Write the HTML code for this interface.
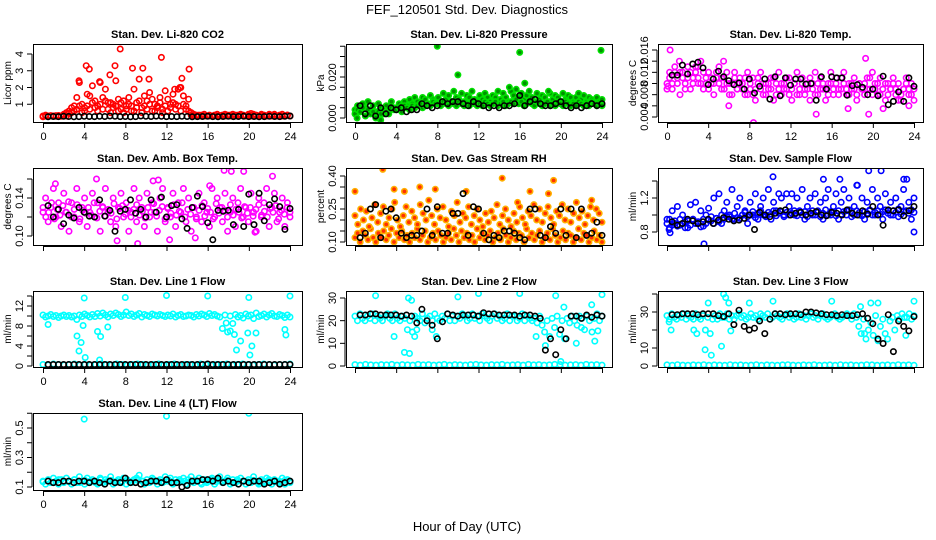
<!DOCTYPE html>
<html><head><meta charset="utf-8"><title>FEF_120501 Std. Dev. Diagnostics</title>
<style>
html,body{margin:0;padding:0;background:#fff;}
svg{display:block;font-family:"Liberation Sans",sans-serif;}
</style></head>
<body>
<svg id="chart" width="936" height="540" viewBox="0 0 936 540" xmlns="http://www.w3.org/2000/svg">
<text x="467" y="14" text-anchor="middle" font-size="13">FEF_120501  Std. Dev. Diagnostics</text>
<text x="467" y="531" text-anchor="middle" font-size="13">Hour of Day (UTC)</text>
</svg>
<script>
// ---------- data ----------
const xTicks = [0,4,8,12,16,20,24];

const co2A = [0.3,0.35,0.3,0.32, 0.3,0.28,0.33,0.3, 0.4,0.5,0.6,0.8, 0.9,1.4,2.3,1.0, 0.8,1.6,1.5,2.1, 1.2,0.9,2.3,1.4, 1.9,1.1,1.1,0.8, 2.4,1.3,0.7,1.2, 0.9,1.4,0.6,1.9, 1.1,2.5,0.8,1.5, 1.2,1.7,0.6,1.0, 0.9,1.4,0.7,1.8, 1.3,0.8,1.6,1.0, 1.9,2.0,1.5,0.9, 1.3,0.5,0.4,0.35, 0.35,0.3,0.4,0.3, 0.35,0.3,0.32,0.4, 0.3,0.35,0.4,0.3, 0.35,0.4,0.3,0.35, 0.4,0.35,0.3,0.4, 0.45,0.4,0.35,0.3, 0.4,0.35,0.3,0.4, 0.35,0.4,0.3,0.35, 0.4,0.3,0.35,0.3];
const co2B = [0.25,0.3,0.28,0.3, 0.3,0.32,0.3,0.28, 0.35,0.3,0.45,0.5, 0.6,0.7,0.9,0.5, 0.6,0.9,0.7,1.1, 0.8,0.6,1.0,0.7, 1.2,0.7,0.5,1.0, 0.9,0.6,1.1,0.5, 0.7,1.0,0.9,0.6, 0.8,1.2,0.5,0.9, 0.7,1.0,1.3,0.6, 0.8,1.1,0.5,0.9, 0.6,1.0,1.1,0.7, 0.9,0.6,1.0,0.7, 0.6,0.35,0.3,0.3, 0.3,0.35,0.3,0.3, 0.3,0.3,0.35,0.3, 0.32,0.3,0.3,0.35, 0.3,0.3,0.35,0.3, 0.35,0.3,0.3,0.35, 0.3,0.35,0.3,0.3, 0.35,0.3,0.3,0.32, 0.3,0.35,0.3,0.3, 0.3,0.3,0.35,0.3];
const co2OutT = [7.5,11.5,4.2,4.5,7,8.7,9.7,14.2,13.5,3.5,6.5,10.3,5.5,12.8,13.3];
const co2OutV = [4.3,3.8,3.3,3.1,3.3,3.15,3.15,3.1,2.55,2.4,2.75,2.5,2.35,1.9,2.0];
const co2K = [0.25,0.27,0.26,0.28,0.27,0.25,0.26,0.28,0.27,0.26,0.28,0.27,0.3,0.28,0.26,0.27,0.25,0.26,0.3,0.28,0.27,0.29,0.28,0.26,0.27,0.26,0.28,0.27,0.25,0.26,0.27,0.28,0.26,0.25,0.27,0.28,0.26,0.27,0.28,0.26,0.27,0.25,0.26,0.28,0.27,0.26,0.28,0.3];

const presA = [0.004,0.006,0.003,0.007, 0.005,0.008,0.004,0.006, 0.003,0.007,0.005,0.002, 0.006,0.004,0.008,0.005, 0.005,0.007,0.006,0.008, 0.006,0.009,0.007,0.010, 0.008,0.006,0.010,0.009, 0.007,0.011,0.009,0.008, 0.010,0.008,0.012,0.009, 0.011,0.008,0.013,0.010, 0.009,0.012,0.008,0.011, 0.010,0.013,0.009,0.008, 0.011,0.009,0.012,0.010, 0.008,0.011,0.010,0.013, 0.009,0.012,0.010,0.008, 0.013,0.011,0.014,0.010, 0.012,0.009,0.011,0.013, 0.010,0.008,0.012,0.009, 0.011,0.010,0.008,0.012, 0.009,0.011,0.010,0.008, 0.012,0.009,0.011,0.010, 0.008,0.010,0.012,0.009, 0.011,0.008,0.010,0.009, 0.007,0.010,0.008,0.009];
const presB = [0.002,0.004,0.003,0.005, 0.001,0.004,0.002,0.003, 0.000,0.003,0.002,0.004, 0.003,0.002,0.005,0.004, 0.004,0.005,0.003,0.006, 0.005,0.004,0.006,0.005, 0.006,0.007,0.005,0.006, 0.007,0.006,0.008,0.007, 0.007,0.006,0.008,0.007, 0.006,0.008,0.007,0.006, 0.008,0.007,0.006,0.007, 0.006,0.008,0.007,0.006, 0.007,0.006,0.008,0.007, 0.006,0.007,0.008,0.006, 0.007,0.008,0.006,0.007, 0.008,0.007,0.009,0.007, 0.008,0.006,0.007,0.008, 0.007,0.006,0.008,0.007, 0.006,0.007,0.008,0.006, 0.007,0.006,0.008,0.007, 0.006,0.008,0.007,0.006, 0.007,0.006,0.008,0.007, 0.006,0.007,0.006,0.008, 0.007,0.006,0.007,0.006];
const presOutT = [8,16,23.9,10,15,16.5,0.2,2.5,18.8];
const presOutV = [0.035,0.032,0.033,0.021,0.015,0.017,0.0,-0.001,0.013];
const presK = [0.006,0.002,0.006,0.001,0.005,0.002,0.005,0.004,0.005,0.003,0.004,0.004,0.007,0.006,0.005,0.006,0.008,0.007,0.008,0.008,0.007,0.006,0.008,0.007,0.006,0.005,0.006,0.005,0.006,0.006,0.007,0.011,0.006,0.008,0.009,0.007,0.006,0.006,0.007,0.008,0.006,0.005,0.006,0.005,0.006,0.007,0.006,0.007];

const ltA = [0.010,0.012,0.009,0.013, 0.011,0.008,0.012,0.010, 0.013,0.009,0.011,0.012, 0.010,0.014,0.009,0.011, 0.012,0.010,0.008,0.011, 0.013,0.009,0.011,0.012, 0.010,0.008,0.012,0.009, 0.011,0.010,0.008,0.012, 0.009,0.011,0.007,0.010, 0.012,0.008,0.010,0.009, 0.011,0.007,0.010,0.012, 0.008,0.010,0.009,0.011, 0.007,0.010,0.012,0.008, 0.011,0.009,0.010,0.007, 0.010,0.012,0.008,0.011, 0.009,0.007,0.010,0.012, 0.008,0.010,0.009,0.011, 0.012,0.008,0.010,0.009, 0.011,0.007,0.010,0.009, 0.008,0.011,0.009,0.012, 0.010,0.008,0.011,0.009, 0.007,0.010,0.009,0.011, 0.008,0.010,0.007,0.009, 0.011,0.008,0.010,0.007];
const ltB = [0.009,0.011,0.010,0.012, 0.010,0.012,0.011,0.009, 0.011,0.012,0.010,0.013, 0.011,0.010,0.012,0.010, 0.009,0.011,0.010,0.012, 0.010,0.011,0.009,0.010, 0.008,0.010,0.011,0.009, 0.010,0.009,0.011,0.008, 0.010,0.008,0.009,0.011, 0.009,0.010,0.008,0.010, 0.009,0.011,0.008,0.009, 0.010,0.009,0.011,0.008, 0.009,0.010,0.008,0.009, 0.010,0.008,0.009,0.011, 0.009,0.008,0.010,0.009, 0.010,0.009,0.008,0.010, 0.009,0.011,0.008,0.009, 0.010,0.009,0.008,0.010, 0.009,0.008,0.010,0.009, 0.010,0.009,0.011,0.008, 0.009,0.010,0.008,0.009, 0.010,0.008,0.009,0.010, 0.009,0.007,0.008,0.009, 0.010,0.009,0.008,0.009];
const ltOutT = [0.3,8.4,14.5,19.6,6,17.6,21,1.2,3,5.5,19.3,23.5,0.1];
const ltOutV = [0.016,0.003,0.0045,0.0045,0.006,0.0055,0.0055,0.014,0.013,0.014,0.0145,0.006,0.0095];
const ltK = [0.0115,0.0115,0.0133,0.0117,0.0135,0.0138,0.0128,0.0098,0.0108,0.0122,0.0112,0.0105,0.0098,0.0101,0.0090,0.0108,0.0083,0.0095,0.0108,0.0072,0.0112,0.0078,0.0110,0.0097,0.0108,0.0108,0.0099,0.0100,0.0070,0.0112,0.0090,0.0112,0.0110,0.0110,0.0079,0.0096,0.0098,0.0093,0.0080,0.0090,0.0078,0.0113,0.0062,0.0068,0.0085,0.0068,0.0110,0.0095];

const abA = [0.125,0.140,0.115,0.130, 0.150,0.120,0.135,0.110, 0.145,0.125,0.105,0.135, 0.120,0.150,0.115,0.130, 0.140,0.110,0.125,0.145, 0.120,0.135,0.105,0.130, 0.150,0.125,0.115,0.140, 0.110,0.130,0.145,0.120, 0.135,0.105,0.125,0.150, 0.115,0.140,0.130,0.110, 0.145,0.120,0.135,0.125, 0.105,0.140,0.150,0.115, 0.130,0.120,0.145,0.110, 0.135,0.125,0.150,0.115, 0.140,0.105,0.130,0.120, 0.145,0.115,0.135,0.125, 0.110,0.150,0.120,0.140, 0.130,0.115,0.145,0.105, 0.125,0.140,0.110,0.135, 0.150,0.120,0.130,0.115, 0.145,0.125,0.105,0.140, 0.120,0.135,0.150,0.110, 0.130,0.145,0.115,0.125, 0.140,0.110,0.135,0.120];
const abB = [0.130,0.120,0.125,0.135, 0.118,0.128,0.122,0.132, 0.125,0.136,0.120,0.128, 0.133,0.118,0.127,0.124, 0.130,0.122,0.135,0.119, 0.126,0.131,0.121,0.128, 0.124,0.134,0.118,0.129, 0.132,0.123,0.127,0.120, 0.128,0.133,0.122,0.126, 0.119,0.130,0.125,0.134, 0.121,0.127,0.131,0.118, 0.129,0.124,0.133,0.122, 0.126,0.135,0.120,0.128, 0.123,0.130,0.118,0.127, 0.132,0.121,0.129,0.125, 0.118,0.134,0.124,0.130, 0.127,0.120,0.133,0.122, 0.128,0.125,0.119,0.131, 0.124,0.130,0.121,0.128, 0.133,0.122,0.126,0.120, 0.129,0.125,0.132,0.118, 0.127,0.123,0.130,0.125];
const abOutT = [1.2,5.2,10.7,11.2,16.2,17.6,18.3,19.5,22.3,7.2,9.2,20.6,12.3,14.8];
const abOutV = [0.155,0.160,0.158,0.159,0.153,0.169,0.168,0.168,0.163,0.095,0.092,0.104,0.096,0.098];
const abK = [0.132,0.120,0.128,0.113,0.122,0.119,0.130,0.125,0.121,0.120,0.138,0.121,0.127,0.105,0.126,0.128,0.138,0.124,0.128,0.120,0.138,0.125,0.141,0.120,0.132,0.133,0.118,0.108,0.130,0.142,0.131,0.114,0.096,0.127,0.126,0.127,0.112,0.128,0.110,0.144,0.112,0.145,0.116,0.133,0.139,0.131,0.107,0.129];

const rhA = [0.12,0.14,0.10,0.15, 0.13,0.11,0.16,0.12, 0.10,0.14,0.12,0.15, 0.11,0.13,0.16,0.10, 0.14,0.12,0.15,0.11, 0.13,0.10,0.14,0.12, 0.16,0.11,0.13,0.15, 0.10,0.12,0.14,0.11, 0.15,0.13,0.10,0.12, 0.14,0.11,0.16,0.13, 0.10,0.15,0.12,0.14, 0.11,0.13,0.10,0.16, 0.12,0.14,0.11,0.13, 0.15,0.10,0.12,0.14, 0.11,0.16,0.13,0.10, 0.12,0.15,0.11,0.14, 0.13,0.10,0.16,0.12, 0.14,0.11,0.13,0.15, 0.10,0.12,0.14,0.11, 0.16,0.13,0.10,0.12, 0.15,0.11,0.14,0.13, 0.10,0.12,0.16,0.11, 0.14,0.13,0.10,0.12, 0.15,0.11,0.13,0.10];
const rhB = [0.22,0.18,0.25,0.20, 0.24,0.17,0.21,0.27, 0.19,0.23,0.26,0.18, 0.21,0.25,0.28,0.20, 0.17,0.22,0.26,0.19, 0.24,0.21,0.18,0.27, 0.23,0.20,0.29,0.22, 0.18,0.25,0.21,0.26, 0.20,0.17,0.24,0.22, 0.28,0.19,0.23,0.21, 0.26,0.18,0.22,0.25, 0.20,0.17,0.23,0.19, 0.24,0.21,0.27,0.18, 0.22,0.25,0.20,0.17, 0.23,0.19,0.26,0.21, 0.18,0.24,0.22,0.27, 0.20,0.25,0.19,0.23, 0.26,0.21,0.18,0.24, 0.22,0.27,0.20,0.25, 0.19,0.23,0.28,0.21, 0.24,0.18,0.22,0.26, 0.20,0.25,0.23,0.19];
const rhOutT = [0,2.7,3.8,4.8,6.3,7.8,10.8,14.3,15.8,17,19.3,18.8,23];
const rhOutV = [0.33,0.43,0.34,0.33,0.35,0.34,0.33,0.39,0.28,0.33,0.38,0.32,0.29];
const rhK = [0.12,0.14,0.25,0.27,0.12,0.24,0.25,0.21,0.14,0.12,0.13,0.13,0.15,0.25,0.13,0.26,0.14,0.14,0.23,0.23,0.32,0.13,0.26,0.25,0.14,0.11,0.13,0.12,0.15,0.15,0.14,0.12,0.11,0.25,0.25,0.13,0.12,0.17,0.14,0.25,0.13,0.25,0.12,0.25,0.13,0.14,0.19,0.13];

const sfA = [0.95,0.85,1.05,0.9, 1.1,0.88,1.0,0.92, 0.85,1.12,0.95,1.15, 0.9,1.05,0.87,1.0, 1.08,0.93,1.2,0.96, 1.25,0.9,1.05,1.15, 0.98,1.3,0.95,1.1, 1.2,1.0,1.05,0.9, 1.15,1.0,1.25,0.95, 1.1,1.2,1.0,1.3, 0.95,1.15,1.05,1.25, 1.2,1.0,1.25,1.1, 1.25,1.0,1.2,1.05, 1.3,0.95,1.1,1.2, 1.0,1.25,1.05,1.15, 0.95,1.2,1.3,1.0, 1.1,1.25,0.95,1.15, 1.3,1.05,1.2,0.98, 1.1,1.35,1.0,1.2, 0.95,1.15,1.05,1.3, 1.0,1.2,1.1,0.95, 1.25,1.05,1.15,1.0, 1.2,0.98,1.1,1.3, 1.05,1.15,0.95,1.2];
const sfB = [0.9,0.95,0.88,0.93, 0.87,0.95,0.9,0.85, 0.93,0.88,0.95,0.9, 0.92,0.86,0.95,0.9, 0.94,0.98,0.9,0.96, 0.92,1.0,0.95,0.98, 1.0,0.95,1.02,0.97, 0.96,1.0,1.03,0.98, 1.0,1.04,0.97,1.02, 1.05,1.0,0.98,1.03, 1.01,1.05,0.99,1.02, 1.04,0.98,1.03,1.0, 1.02,1.05,0.99,1.03, 1.0,1.04,0.98,1.02, 1.05,1.0,1.03,0.98, 1.02,1.06,1.0,1.04, 1.03,0.99,1.05,1.01, 1.04,1.0,1.06,1.02, 1.0,1.05,1.03,0.99, 1.04,1.02,1.06,1.0, 1.03,1.05,1.01,1.04, 1.06,1.02,1.0,1.05, 1.03,1.07,1.01,1.04, 1.05,1.02,1.06,1.03];
const sfOutT = [0.2,0.3,3.6,10.3,15.2,19.6,20.8,18.5,16.8,23,24,23.3];
const sfOutV = [0.83,0.79,0.66,1.45,1.42,1.52,1.52,1.35,1.42,1.42,0.8,1.42];
const sfK = [0.92,0.88,0.9,0.95,0.93,0.9,0.92,0.95,0.9,0.94,0.97,0.95,0.93,0.94,0.96,1.0,0.83,1.03,1.0,0.98,1.02,1.05,1.06,1.0,1.02,1.03,1.0,1.02,1.04,1.0,0.99,1.03,1.02,1.0,1.06,1.02,1.0,1.05,1.01,1.1,1.0,0.88,1.06,1.05,1.06,0.99,1.05,1.1];

const l1A = [10.2,9.8,10.0,10.3, 9.9,10.1,9.7,10.0, 10.2,9.9,10.1,9.8, 10.0,9.3,10.2,9.9, 10.4,10.1,9.8,10.3, 9.9,10.5,10.0,10.6, 10.2,9.8,10.4,10.1, 10.6,10.3,9.9,10.2, 10.8,10.1,10.4,9.9, 10.2,10.5,9.8,10.3, 10.1,9.9,10.4,10.2, 10.0,10.3,10.1,9.9, 10.2,10.0,10.4,9.8, 10.1,10.3,9.9,10.0, 10.2,10.1,9.8,10.3, 10.0,10.4,10.2,9.9, 10.5,10.1,10.3,10.0, 9.8,7.5,10.2,6.8, 10.0,8.5,10.3,9.8, 10.1,9.6,10.4,10.0, 10.2,9.5,10.6,9.9, 10.1,10.4,9.8,10.2, 10.5,10.0,9.9,10.3, 10.1,9.7,10.2,9.8];
const l1B = [0.3,0.2,0.4,0.3,0.2,0.3,0.4,0.2,0.3,0.2,0.3,0.4,0.3,0.2,0.4,0.3,0.2,0.3,0.4,0.3,0.2,0.3,0.4,0.2,0.3,0.4,0.2,0.3,0.3,0.2,0.4,0.3,0.2,0.3,0.3,0.4,0.2,0.3,0.4,0.3,0.2,0.3,0.4,0.3,0.2,0.3,0.3,0.4];
const l1OutT = [4,8,12,16,20,24,0.5,3.3,3.5,3.7,4.1,3.9,5.3,5.6,6.3,17.8,18.2,18.6,18.8,19.2,19.9,20.1,20.3,20.7,23.5,23.6,5.5];
const l1OutV = [13.6,13.7,14.1,14.0,13.7,14.0,8.3,6.0,3.0,4.7,1.7,8.1,6.9,5.9,7.8,8.6,7.0,6.3,3.2,5.0,6.6,2.2,4.0,6.6,7.3,6.2,1.2];
const l1K = [0.3,0.3,0.3,0.3,0.3,0.3,0.3,0.3,0.3,0.3,0.3,0.3,0.3,0.3,0.3,0.3,0.3,0.3,0.3,0.3,0.3,0.3,0.3,0.3,0.3,0.3,0.3,0.3,0.3,0.3,0.3,0.4,0.3,0.3,0.3,0.3,0.3,0.3,0.3,0.3,0.3,0.3,0.3,0.3,0.3,0.3,0.3,0.3];

const l2A = [22,20,23,21, 20,22,21,23, 20,22,21,20, 22,23,21,20, 23,21,20,22, 21,16,20,15, 22,21,20,23, 19,21,22,20, 23,21,20,22, 21,23,20,22, 20,22,21,23, 22,20,21,23, 21,22,20,23, 22,21,20,22, 23,21,22,20, 21,23,20,22, 22,20,21,23, 20,22,21,20, 21,19,22,18, 15,20,13,21, 17,22,14,20, 12,21,19,22, 20,18,22,21, 16,22,20,15, 21,23,20,22];
const l2B = [0.6,0.4,0.7,0.5,0.4,0.6,0.5,0.7,0.4,0.6,0.5,0.4,0.7,0.5,0.6,0.4,0.5,0.7,0.4,0.6,0.5,0.4,0.6,0.7,0.5,0.4,0.6,0.5,0.7,0.4,0.5,0.6,0.4,0.7,0.5,0.6,0.4,0.5,0.7,0.6,0.4,0.5,0.6,0.4,0.7,0.5,0.6,0.4];
const l2OutT = [2,4.8,5.2,5.5,5.3,5.8,6,7.9,10,12,16,17.6,18.5,19.5,20,20.3,21.5,22,23,23.3,23.6,24,3.8,7.5];
const l2OutV = [31,6,30,29,5.5,13,16,13,30.5,32,32,13,9,31,2,26,10,17,27,11,15.5,31.5,13,16];
const l2K = [22.5,22.5,23,23,22.5,22.5,22.5,22.5,22,22.5,22,19,25,20,18,12,19.5,23,22.5,22,22.5,22.5,22.5,22,23.5,23,23,22.5,22.5,22.5,22.5,22,22.5,22.5,22,21,7,12,5,16,12,22,22,21,22.5,21.5,22.5,22];

const l3A = [28,26,29,27, 26,28,27,29, 26,28,27,26, 29,27,26,28, 20,27,18,26, 28,26,29,27, 27,29,26,28, 26,28,29,27, 28,26,27,29, 27,28,26,29, 28,27,29,26, 27,29,28,27, 26,28,29,27, 28,26,27,29, 27,28,26,28, 29,27,28,26, 28,29,27,26, 27,28,29,27, 26,27,28,29, 28,26,29,27, 22,18,26,15, 20,24,17,28, 14,22,26,18, 15,25,27,20, 28,26,29,27, 27,29,26,28];
const l3B = [0.6,0.4,0.7,0.5,0.4,0.6,0.5,0.7,0.4,0.6,0.5,0.4,0.7,0.5,0.6,0.4,0.5,0.7,0.4,0.6,0.5,0.4,0.6,0.7,0.5,0.4,0.6,0.5,0.7,0.4,0.5,0.6,0.4,0.7,0.5,0.6,0.4,0.5,0.7,0.6,0.4,0.5,0.6,0.4,0.7,0.5,0.6,0.4];
const l3OutT = [0.2,0.4,4,3.7,4.3,5.3,5.5,5.7,6,6.2,8,10.3,16,18.8,19.8,20.5,24,2.6,2.9,19.2,23.2];
const l3OutV = [24.5,20,35,9,6,11,40,38,35,19.5,35,36,36,33,35,35,36,20,18,18,17];
const l3K = [28.5,28.5,29,29,29,28.5,29,29,29,28,27.5,29,23,31,22,20,21,25,18,26,29,29,28.5,29,29,28.5,30,30,29.5,29,28.5,28.5,28,28.5,28,28,28.5,29,26.5,23.5,15,12.5,28.5,8,25,22,19.5,27.5];

const l4A = [0.14,0.12,0.15,0.13, 0.16,0.14,0.12,0.15, 0.13,0.16,0.14,0.12, 0.15,0.13,0.17,0.14, 0.12,0.16,0.13,0.15, 0.14,0.12,0.16,0.13, 0.15,0.14,0.17,0.12, 0.13,0.15,0.14,0.16, 0.12,0.14,0.13,0.15, 0.16,0.18,0.14,0.12, 0.15,0.13,0.16,0.14, 0.12,0.15,0.13,0.17, 0.14,0.16,0.12,0.15, 0.13,0.14,0.16,0.12, 0.15,0.17,0.13,0.14, 0.16,0.12,0.15,0.13, 0.14,0.16,0.12,0.15, 0.17,0.13,0.14,0.16, 0.12,0.15,0.13,0.14, 0.16,0.14,0.12,0.15, 0.13,0.17,0.14,0.12, 0.15,0.13,0.16,0.14, 0.12,0.15,0.14,0.13, 0.16,0.12,0.15,0.14];
const l4B = [0.135,0.145,0.13,0.15,0.14,0.135,0.15,0.13,0.145,0.14,0.13,0.15,0.135,0.145,0.14,0.13,0.15,0.135,0.145,0.14,0.13,0.15,0.14,0.135,0.145,0.13,0.15,0.14,0.135,0.145,0.13,0.14,0.15,0.135,0.14,0.145,0.13,0.15,0.14,0.135,0.145,0.13,0.14,0.15,0.135,0.14,0.145,0.13];
const l4OutT = [4,12,20];
const l4OutV = [0.56,0.58,0.60];
const l4K = [0.14,0.13,0.13,0.14,0.14,0.13,0.14,0.14,0.13,0.14,0.13,0.12,0.14,0.13,0.13,0.16,0.13,0.13,0.12,0.13,0.14,0.14,0.13,0.15,0.13,0.13,0.10,0.11,0.14,0.14,0.15,0.15,0.14,0.16,0.13,0.14,0.13,0.12,0.14,0.13,0.14,0.14,0.12,0.13,0.14,0.12,0.13,0.14];

// y-axis tick values and tick label text
const co2YTicks = [1,2,3,4];           const co2YLabels = ["1","2","3","4"];
const presYTicks = [0,0.005,0.01,0.015,0.02,0.025,0.03,0.035]; const presYLabels = ["0.000","","","","0.020","","",""];
const ltYTicks = [0.004,0.006,0.008,0.010,0.012,0.014,0.016]; const ltYLabels = ["0.004","","0.008","","0.012","","0.016"];
const abYTicks = [0.10,0.12,0.14,0.16]; const abYLabels = ["0.10","","0.14",""];
const rhYTicks = [0.10,0.15,0.20,0.25,0.30,0.35,0.40]; const rhYLabels = ["0.10","","","0.25","","","0.40"];
const sfYTicks = [0.8,1.0,1.2,1.4];     const sfYLabels = ["0.8","","1.2",""];
const l1YTicks = [0,2,4,6,8,10,12,14];  const l1YLabels = ["0","","4","","8","","12",""];
const l2YTicks = [0,10,20,30];          const l2YLabels = ["0","10","20","30"];
const l3YTicks = [0,10,20,30,40];       const l3YLabels = ["0","10","","30",""];
const l4YTicks = [0.1,0.2,0.3,0.4,0.5,0.6]; const l4YLabels = ["0.1","","0.3","","0.5",""];

// ---------- drawing ----------
const NS = "http://www.w3.org/2000/svg";
const svg = document.getElementById('chart');
function mk(tag, attrs, parent) {
  const e = document.createElementNS(NS, tag);
  for (const k in attrs) e.setAttribute(k, attrs[k]);
  (parent || svg).appendChild(e);
  return e;
}
const COLS = [{L:33,R:302,x0:43,x24:290},{L:346,R:612,x0:355,x24:602},{L:658,R:923,x0:667,x24:914}];
const ROWS = [{T:44,B:122},{T:168,B:245},{T:291,B:367},{T:413,B:490}];

function panel(cfg) {
  const c = COLS[cfg.col], r = ROWS[cfg.row];
  const g = mk('g', {});
  
  
  const xs = t => c.x0 + (c.x24 - c.x0) * t / 24;
  const ys = v => cfg.py0 + (v - cfg.v0) * (cfg.py1 - cfg.py0) / (cfg.v1 - cfg.v0);
  const clip = 'clip-' + cfg.name;
  const cp = mk('clipPath', {id: clip}, g);
  mk('rect', {x: c.L, y: r.T, width: c.R - c.L, height: r.B - r.T}, cp);
  const pts = mk('g', {'clip-path': 'url(#' + clip + ')'}, g);
  function dot(t, v, col, fill) {
    const e = mk('circle', {cx: xs(t).toFixed(1), cy: ys(v).toFixed(1), r: 2.7, fill: fill || 'none', stroke: col, 'stroke-width': 1.6}, pts);
    
    
  }
  cfg.series.forEach(arr => {
    const n = arr.length;
    arr.forEach((v, i) => dot(24 * i / (n - 1), v, cfg.color, cfg.fill));
  });
  cfg.outT.forEach((t, i) => dot(t, cfg.outV[i], cfg.color, cfg.fill));
  cfg.black.forEach((v, i) => dot(0.5 * (i + 1), v, '#000'));
  const box = mk('rect', {x: c.L + 0.5, y: r.T + 0.5, width: c.R - c.L, height: r.B - r.T, fill: 'none', stroke: '#000', 'stroke-width': 1}, g);
  
  
  const xa = mk('g', {}, g);
  
  
  mk('line', {x1: xs(0), x2: xs(24), y1: r.B + 1.5, y2: r.B + 1.5, stroke: '#000'}, xa);
  xTicks.forEach(t => {
    mk('line', {x1: xs(t) + 0.5, x2: xs(t) + 0.5, y1: r.B + 1, y2: r.B + 6, stroke: '#000'}, xa);
    if (cfg.xlabels) {
      const tx = mk('text', {x: xs(t) + 0.5, y: r.B + 18, 'text-anchor': 'middle', 'font-size': 11}, xa);
      tx.textContent = String(t);
      
      
    }
  });
  const ya = mk('g', {}, g);
  
  
  const yt = cfg.yTicks;
  mk('line', {x1: c.L - 1, x2: c.L - 1, y1: ys(yt[0]), y2: ys(yt[yt.length - 1]), stroke: '#000'}, ya);
  yt.forEach((v, i) => {
    const y = ys(v);
    mk('line', {x1: c.L - 6, x2: c.L - 1, y1: y, y2: y, stroke: '#000'}, ya);
    const lab = cfg.yLabels[i];
    if (lab) {
      const tx = mk('text', {x: 0, y: 0, 'text-anchor': 'middle', 'font-size': 11, transform: 'translate(' + (c.L - 10) + ',' + y.toFixed(1) + ') rotate(-90)'}, ya);
      tx.textContent = lab;
      
      
    }
  });
  const ttl = mk('text', {x: 0, y: 0, 'text-anchor': 'middle', 'font-size': 10, transform: 'translate(' + (c.L - 22) + ',' + ((r.T + r.B) / 2) + ') rotate(-90)'}, g);
  ttl.textContent = cfg.ytitle;
  
  
  const pt = mk('text', {x: (c.L + c.R) / 2, y: r.T - 6, 'text-anchor': 'middle', 'font-size': 11, 'font-weight': 'bold'}, g);
  pt.textContent = cfg.title;
  
  
}

panel({name:'panel-co2', col:0,row:0, title:'Stan. Dev. Li-820 CO2', ytitle:'Licor ppm', v0:0,v1:4,py0:121,py1:54, yTicks:co2YTicks,yLabels:co2YLabels, series:[co2A,co2B], outT:co2OutT,outV:co2OutV, black:co2K, color:'#ff0000', xlabels:true});
panel({name:'panel-pressure', col:1,row:0, title:'Stan. Dev. Li-820 Pressure', ytitle:'kPa', v0:0,v1:0.02,py0:118,py1:77, yTicks:presYTicks,yLabels:presYLabels, series:[presA,presB], outT:presOutT,outV:presOutV, black:presK, color:'#00e000', fill:'#009000', xlabels:true});
panel({name:'panel-li820-temp', col:2,row:0, title:'Stan. Dev. Li-820 Temp.', ytitle:'degrees C', v0:0.004,v1:0.016,py0:117,py1:50, yTicks:ltYTicks,yLabels:ltYLabels, series:[ltA,ltB], outT:ltOutT,outV:ltOutV, black:ltK, color:'#ff00ff', xlabels:true});
panel({name:'panel-amb-box-temp', col:0,row:1, title:'Stan. Dev. Amb. Box Temp.', ytitle:'degrees C', v0:0.10,v1:0.14,py0:236,py1:198, yTicks:abYTicks,yLabels:abYLabels, series:[abA,abB], outT:abOutT,outV:abOutV, black:abK, color:'#ff00ff', xlabels:false});
panel({name:'panel-gas-stream-rh', col:1,row:1, title:'Stan. Dev. Gas Stream RH', ytitle:'percent', v0:0.10,v1:0.40,py0:242,py1:176, yTicks:rhYTicks,yLabels:rhYLabels, series:[rhA,rhB], outT:rhOutT,outV:rhOutV, black:rhK, color:'#ffb000', fill:'#ff3000', xlabels:false});
panel({name:'panel-sample-flow', col:2,row:1, title:'Stan. Dev. Sample Flow', ytitle:'ml/min', v0:0.8,v1:1.2,py0:232,py1:198, yTicks:sfYTicks,yLabels:sfYLabels, series:[sfA,sfB], outT:sfOutT,outV:sfOutV, black:sfK, color:'#0000ff', xlabels:false});
panel({name:'panel-line1-flow', col:0,row:2, title:'Stan. Dev. Line 1 Flow', ytitle:'ml/min', v0:0,v1:12,py0:366,py1:306, yTicks:l1YTicks,yLabels:l1YLabels, series:[l1A,l1B], outT:l1OutT,outV:l1OutV, black:l1K, color:'#00ffff', xlabels:true});
panel({name:'panel-line2-flow', col:1,row:2, title:'Stan. Dev. Line 2 Flow', ytitle:'ml/min', v0:0,v1:30,py0:366,py1:298, yTicks:l2YTicks,yLabels:l2YLabels, series:[l2A,l2B], outT:l2OutT,outV:l2OutV, black:l2K, color:'#00ffff', xlabels:false});
panel({name:'panel-line3-flow', col:2,row:2, title:'Stan. Dev. Line 3 Flow', ytitle:'ml/min', v0:0,v1:30,py0:366,py1:312, yTicks:l3YTicks,yLabels:l3YLabels, series:[l3A,l3B], outT:l3OutT,outV:l3OutV, black:l3K, color:'#00ffff', xlabels:false});
panel({name:'panel-line4-flow', col:0,row:3, title:'Stan. Dev. Line 4 (LT) Flow', ytitle:'ml/min', v0:0.1,v1:0.5,py0:487,py1:428, yTicks:l4YTicks,yLabels:l4YLabels, series:[l4A,l4B], outT:l4OutT,outV:l4OutV, black:l4K, color:'#00ffff', xlabels:true});
</script>
</body></html>
